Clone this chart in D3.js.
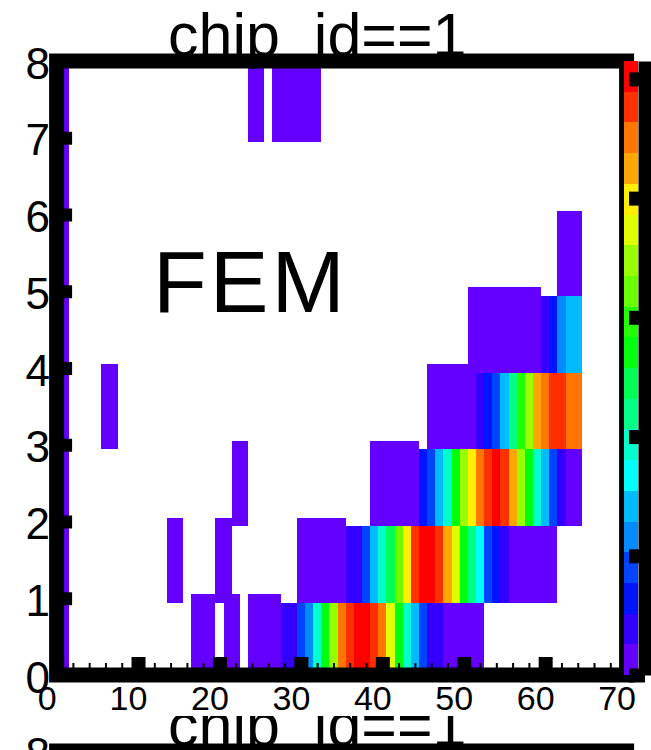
<!DOCTYPE html>
<html>
<head>
<meta charset="utf-8">
<script src="https://cdn.jsdelivr.net/npm/d3@7"></script>
<style>
  html, body { margin: 0; padding: 0; background: #fff; }
  svg { display: block; }
  text { font-family: "Liberation Sans", Arial, Helvetica, sans-serif; fill: #000; }
</style>
</head>
<body>
<svg id="chart" width="651" height="750"></svg>
<script>
// Hit map for chip_id==1: entries per [channel, count], one list per FEM row (0..7)
const fem0 = [[1,5],[17,4],[18,7],[19,3],[21,6],[22,4],[24,9],[25,11],[26,14],[27,19],
  [28,33],[29,47],[30,90],[31,118],[32,190],[33,266],[34,350],[35,447],[36,471],[37,497],
  [38,505],[39,479],[40,441],[41,368],[42,272],[43,196],[44,138],[45,86],[46,44],[47,30],
  [48,18],[49,12],[50,8],[51,5],[52,3]];
const fem1 = [[1,4],[14,3],[15,5],[20,4],[21,3],[30,5],[31,8],[32,12],[33,15],[34,19],[35,23],
  [36,31],[37,46],[38,88],[39,144],[40,196],[41,246],[42,318],[43,399],[44,470],[45,494],
  [46,508],[47,481],[48,421],[49,371],[50,264],[51,213],[52,160],[53,84],[54,58],[55,35],
  [56,21],[57,15],[58,11],[59,7],[60,5],[61,3]];
const fem2 = [[1,6],[22,3],[23,4],[39,4],[40,7],[41,10],[42,14],[43,18],[44,24],[45,61],
  [46,93],[47,138],[48,190],[49,262],[50,340],[51,392],[52,446],[53,472],[54,503],[55,467],
  [56,419],[57,348],[58,276],[59,187],[60,143],[61,82],[62,37],[63,17],[64,9]];
const fem3 = [[1,4],[6,3],[7,5],[46,5],[47,8],[48,12],[49,16],[50,20],[51,24],[52,41],[53,66],
  [54,94],[55,147],[56,222],[57,289],[58,352],[59,430],[60,455],[61,474],[62,468],[63,449],[64,444]];
const fem4 = [[1,5],[51,3],[52,5],[53,7],[54,9],[55,12],[56,14],[57,16],[58,19],[59,22],
  [60,39],[61,60],[62,112],[63,140],[64,148]];
const fem5 = [[1,4],[62,6],[63,9],[64,12]];
const fem6 = [[1,3]];
const fem7 = [[1,5],[24,4],[25,6],[27,7],[28,9],[29,8],[30,6],[31,5],[32,4]];
const femRows = [fem0, fem1, fem2, fem3, fem4, fem5, fem6, fem7];

const xTicks = [0, 10, 20, 30, 40, 50, 60, 70];
const xMinorTicks = [2,4,6,8,12,14,16,18,22,24,26,28,32,34,36,38,42,44,46,48,52,54,56,58,62,64,66,68];
const yTicks = [0, 1, 2, 3, 4, 5, 6, 7, 8];
const zTicks = [0, 100, 200, 300, 400, 500];
const zMax = 515;
const nContours = 20;
const titleText = "chip_id==1";
const panelLabel = "FEM";

// Violet -> red spectrum, 50 hues reduced to the 20 contour levels
const palette = d3.range(nContours).map(c => {
  const idx = Math.floor((c + 0.99) * 50 / nContours);
  const hue = 280 - (idx + 1) * 5.6;
  return d3.hsl(hue, 1, 0.5).formatHex();
});

const svg = d3.select("#chart");
const W = 651;

const x = d3.scaleLinear().domain([0, 70]).range([56.6, 626.6]);
const y = d3.scaleLinear().domain([0, 8]).range([675, 61]);
const z = d3.scaleLinear().domain([0, zMax]).range([675, 61]);
const color = d3.scaleQuantize().domain([0, zMax]).range(palette);

// cell geometry in axis units
const rowShift = -0.06;      // cells sit slightly below the row line
const lowLevelExtra = 0.11;  // lowest contour boxes reach a bit higher

function cellTop(d, r) {
  return y(r + 1 + rowShift + (color(d[1]) === palette[0] ? lowLevelExtra : 0));
}

function drawPanel(g, rows, opts) {
  // cells, drawn from the bottom row upward
  rows.forEach((row, r) => {
    g.append("g").attr("shape-rendering", "crispEdges")
      .selectAll("rect")
      .data(row)
      .join("rect")
      .attr("x", d => x(d[0] - 0.5))
      .attr("width", d => x(d[0] + 0.5) - x(d[0] - 0.5))
      .attr("y", d => cellTop(d, r))
      .attr("height", d => y(r + rowShift) - cellTop(d, r))
      .attr("fill", d => color(d[1]));
  });

  // y axis: labels and ticks
  const yAxis = d3.axisLeft(y).tickValues(opts.yLabels).tickSizeInner(-15.5).tickSizeOuter(0)
    .tickPadding(6.5).tickFormat(d3.format("d"));
  const gy = g.append("g").attr("transform", `translate(${x(0)},0)`).call(yAxis);
  gy.select(".domain").remove();
  gy.selectAll(".tick line").attr("stroke", "#000").attr("stroke-width", 13);
  gy.selectAll(".tick text").attr("font-size", 44).attr("dy", "0.39em").attr("fill", "#000");

  // frame
  g.append("rect")
    .attr("x", x(0)).attr("y", y(8))
    .attr("width", x(70) - x(0)).attr("height", y(0) - y(8))
    .attr("fill", "none").attr("stroke", "#000").attr("stroke-width", 15)
    .attr("stroke-linejoin", "miter");

  if (opts.xAxis) {
    // x axis: minor then major ticks
    const xMinor = d3.axisBottom(x).tickValues(xMinorTicks).tickSizeInner(-12).tickSizeOuter(0).tickFormat("");
    const gxm = g.append("g").attr("transform", `translate(0,${y(0)})`).call(xMinor);
    gxm.select(".domain").remove();
    gxm.selectAll(".tick line").attr("stroke", "#000").attr("stroke-width", 2);

    const xAxis = d3.axisBottom(x).tickValues(xTicks).tickSizeInner(-18).tickSizeOuter(0)
      .tickPadding(11).tickFormat(d3.format("d"));
    const gx = g.append("g").attr("transform", `translate(0,${y(0)})`).call(xAxis);
    gx.select(".domain").remove();
    gx.selectAll(".tick line").attr("stroke", "#000").attr("stroke-width", 14);
    gx.selectAll(".tick text").attr("font-size", 34).attr("dx", -10).attr("fill", "#000");
  }

  // colour palette
  g.append("g").attr("shape-rendering", "crispEdges")
    .selectAll("rect")
    .data(palette)
    .join("rect")
    .attr("x", 624).attr("width", 14)
    .attr("y", (d, i) => z((i + 1) * zMax / nContours))
    .attr("height", (d, i) => z(i * zMax / nContours) - z((i + 1) * zMax / nContours))
    .attr("fill", d => d);

  const zAxis = d3.axisRight(z).tickValues(zTicks).tickSizeInner(-16).tickSizeOuter(0).tickFormat("");
  const gz = g.append("g").attr("transform", "translate(645,0)").call(zAxis);
  gz.select(".domain").attr("stroke", "#000").attr("stroke-width", 14);
  gz.selectAll(".tick line").attr("stroke", "#000").attr("stroke-width", 14);

  // texts
  if (opts.label) {
    g.append("text")
      .attr("x", 153).attr("y", 312)
      .attr("font-size", 88)
      .attr("letter-spacing", 3)
      .text(panelLabel);
  }

  g.append("text")
    .attr("x", 168).attr("y", 56)
    .attr("font-size", 61)
    .text(titleText);
}

// next pad below, mostly hidden under the upper pad
const lower = svg.append("g").attr("transform", "translate(0,690)");
drawPanel(lower, [], { yLabels: yTicks.slice(-1), xAxis: false, label: false });

// upper pad with its own white background
svg.append("rect").attr("x", 0).attr("y", 0).attr("width", W).attr("height", 716).attr("fill", "#fff");
const upper = svg.append("g");
drawPanel(upper, femRows, { yLabels: yTicks, xAxis: true, label: true });
</script>
</body>
</html>
